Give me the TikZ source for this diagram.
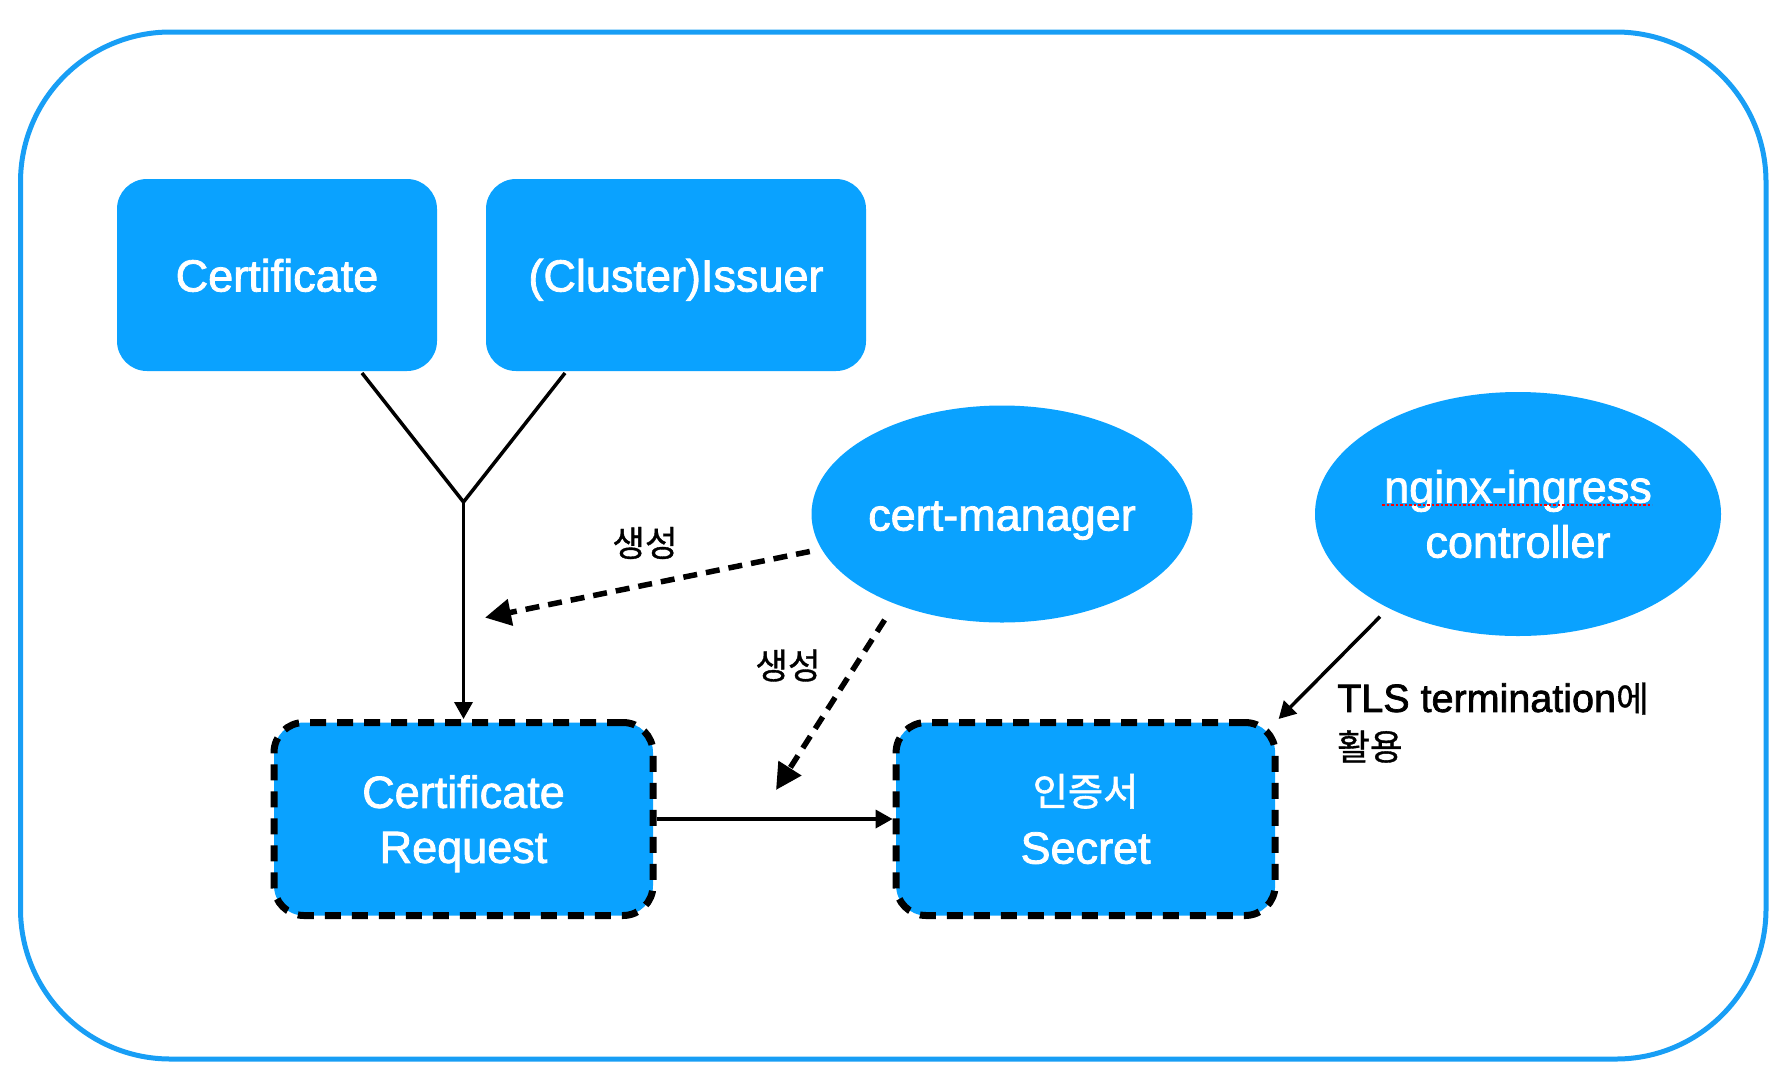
\documentclass[tikz,border=0pt]{standalone}
\usepackage{fontspec}
\setmainfont{Liberation Sans}[FakeBold=1.8]
\newfontfamily\kr{Noto Sans CJK KR}[Scale=0.85, FakeBold=1.5]
\newfontfamily\krl{Noto Sans CJK KR}[Scale=0.9, FakeBold=1]
\usetikzlibrary{arrows.meta,shapes.geometric}
\definecolor{kblue}{RGB}{10,162,255}
\definecolor{fblue}{RGB}{24,158,245}
\begin{document}
\begin{tikzpicture}[x=1pt,y=-1pt,
  boxtext/.style={text=white, font=\fontsize{45}{55}\selectfont, align=center, inner sep=0pt},
  sbox/.style={boxtext, fill=kblue, rounded corners=30pt, minimum height=192pt, text height=33pt, text depth=0pt},
  dbox/.style={boxtext, fill=kblue, draw=black, line width=7pt, dash pattern=on 16pt off 11pt, rounded corners=30pt, minimum width=379pt, minimum height=193pt},
  oval/.style={boxtext, ellipse, fill=kblue},
  sol/.style={black, line width=3.5pt},
  solarrow/.style={sol, -{Triangle[length=17pt,width=18pt]}},
  dasharrow/.style={black, line width=5.5pt, dash pattern=on 14pt off 9pt, -{Triangle[length=26pt,width=26pt]}},
  lbl/.style={font=\fontsize{39.5}{48}\selectfont, inner sep=0pt, align=left}
]
\useasboundingbox (0,0) rectangle (1790,1088);
\draw[fblue, line width=5pt, rounded corners=150pt] (20.5,32) rectangle (1766,1059);

\node[sbox, minimum width=320pt] (cert) at (277,275) {Certificate};
\node[sbox, minimum width=380pt] (iss) at (676,275) {(Cluster)Issuer};
\node[oval, minimum width=381pt, minimum height=217pt, text height=33pt, text depth=0pt] (cm) at (1002,514) {cert-manager};
\node[oval, minimum width=406pt, minimum height=244pt] (ng) at (1518,514) {nginx-ingress\\controller};
\node[dbox] (cr) at (463.5,819) {\rule{0pt}{42pt}Certificate\\Request};
\node[dbox] (sec) at (1085.6,819) {{\kr 인증서}\\[3pt]Secret};

\draw[red, line width=2.5pt, dash pattern=on 2.5pt off 2pt] (1382,505) -- (1652,505);

\coordinate (c1) at (362,373);
\coordinate (c2) at (565,373);
\coordinate (j) at (463.5,502);
\coordinate (e1) at (485,617.6);
\coordinate (e2) at (776,790);

\draw[sol, line join=miter] (c1) -- (j) -- (c2);
\draw[solarrow] (j) -- (cr.north);
\draw[solarrow] (cr.east) -- (sec.west);

\draw[dasharrow, shorten <=12pt] (cm.191) -- (e1);
\draw[dasharrow, shorten <=19pt] (cm.220.6) -- (e2);
\draw[solarrow, shorten <=12pt] (ng.216.8) -- (sec.north east);

\node[lbl, font=\fontsize{39.5}{48}\krl] (l1) at (645,543) {생성};
\node[lbl, font=\fontsize{39.5}{48}\krl] (l2) at (788,665.5) {생성};
\node[lbl, anchor=west] (l3) at (1337,722.6) {TLS termination{\krl 에}\\{\krl 활용}};
\end{tikzpicture}
\end{document}
